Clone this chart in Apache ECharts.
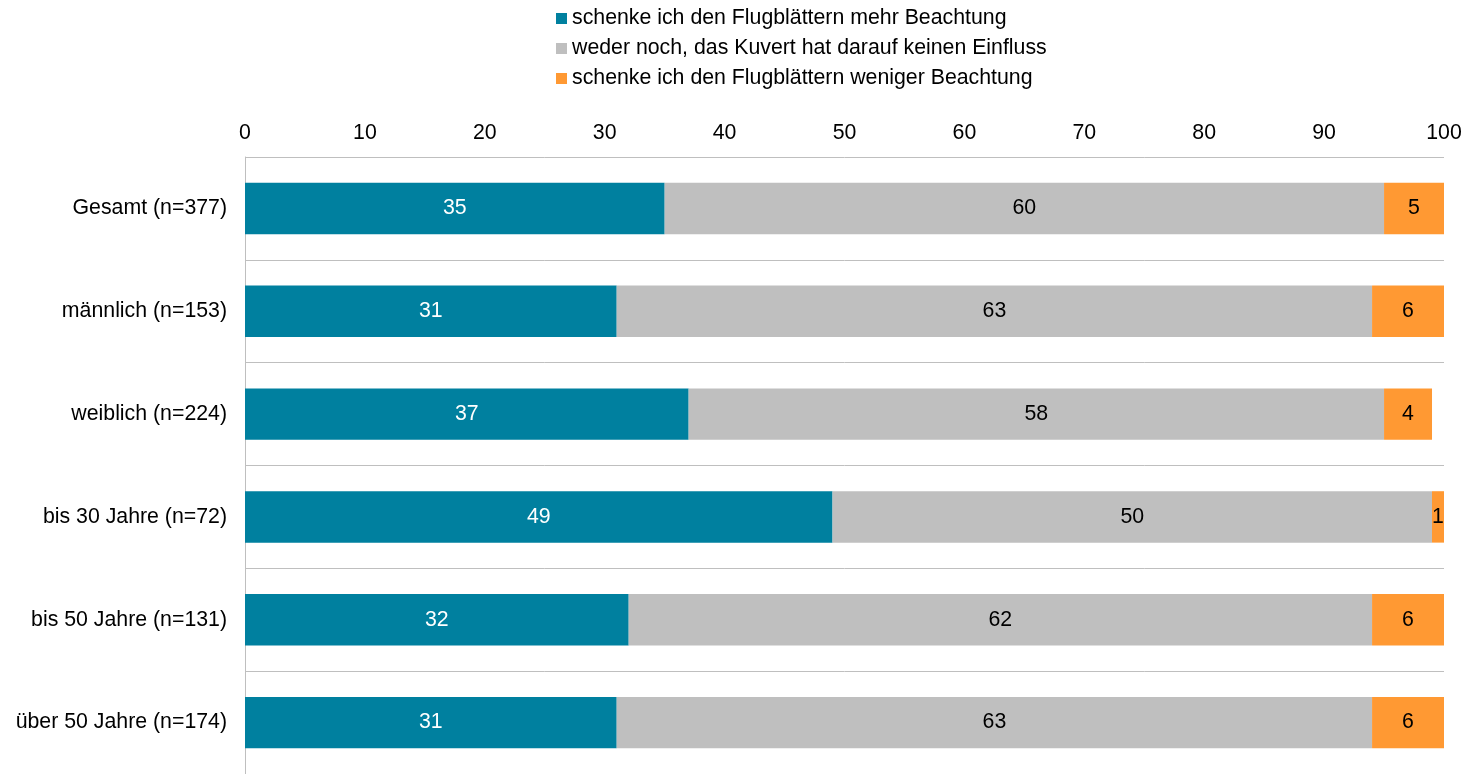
<!DOCTYPE html>
<html><head><meta charset="utf-8">
<script src="https://cdn.jsdelivr.net/npm/echarts@6/dist/echarts.min.js"></script>
<style>html,body{margin:0;padding:0;background:#fff}#c{width:1468px;height:774px}</style>
</head><body><div id="c"></div>
<script>
const categories = ['Gesamt (n=377)','männlich (n=153)','weiblich (n=224)','bis 30 Jahre (n=72)','bis 50 Jahre (n=131)','über 50 Jahre (n=174)'];
const seriesNames = ['schenke ich den Flugblättern mehr Beachtung','weder noch, das Kuvert hat darauf keinen Einfluss','schenke ich den Flugblättern weniger Beachtung'];
const mehr = [35,31,37,49,32,31];
const weder = [60,63,58,50,62,63];
const weniger = [5,6,4,1,6,6];
const xTicks = [0,10,20,30,40,50,60,70,80,90,100];
const colors = ['#00809f','#bfbfbf','#ff9933'];
const labelColors = ['#ffffff','#000000','#000000'];
const font = '"Liberation Sans", Arial, sans-serif';
const FS = 21.3;
const chart = echarts.init(document.getElementById('c'));
const mk = (name, data, i) => ({
  name, type:'bar', stack:'t', data, barWidth:'50%',
  itemStyle:{color:colors[i]},
  label:{show:true, position:'inside', color:labelColors[i], fontSize:FS, fontFamily:font},
  emphasis:{disabled:true}
});
chart.setOption({
  animation:false,
  textStyle:{fontFamily:font},
  legend:{orient:'vertical', left:551, top:3, itemWidth:11, itemHeight:11, itemGap:9,
    icon:'rect', textStyle:{fontSize:FS, color:'#000', fontFamily:font}, selectedMode:false,
    data:seriesNames},
  grid:{left:245, right:24, top:157, bottom:0, containLabel:false},
  xAxis:{type:'value', position:'top', min:0, max:100, interval:10,
    axisLine:{show:false}, axisTick:{show:false}, splitLine:{show:false},
    axisLabel:{fontSize:FS, color:'#000', margin:13, fontFamily:font,
      formatter:v=>xTicks.includes(v)?String(v):''}},
  yAxis:{type:'category', inverse:true, data:categories,
    axisLine:{show:true, lineStyle:{color:'#bfbfbf'}}, axisTick:{show:false},
    splitLine:{show:true, lineStyle:{color:'#bfbfbf'}},
    axisLabel:{fontSize:FS, color:'#000', margin:18, fontFamily:font}},
  series:[mk(seriesNames[0],mehr,0), mk(seriesNames[1],weder,1), mk(seriesNames[2],weniger,2)]
});
</script></body></html>
